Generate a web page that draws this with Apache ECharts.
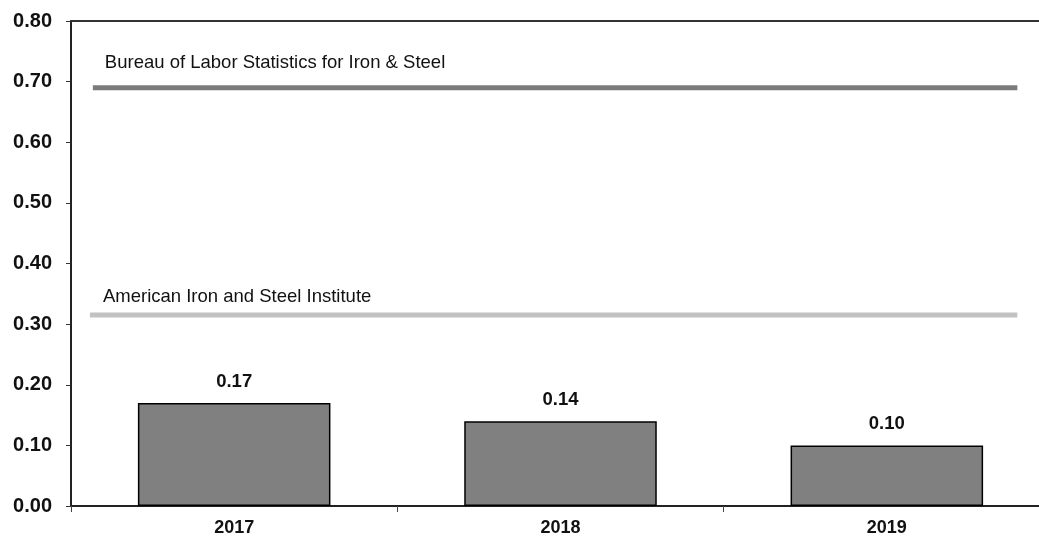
<!DOCTYPE html>
<html>
<head>
<meta charset="utf-8">
<script src="https://cdn.jsdelivr.net/npm/echarts@6/dist/echarts.min.js"></script>
<style>
html,body{margin:0;padding:0;background:#fff;overflow:hidden;}
#chart{width:1050px;height:539px;}
</style>
</head>
<body>
<div id="chart"></div>
<script>
const categories = ['2017', '2018', '2019'];
const barValues = [0.17, 0.14, 0.10];
const yTicks = { min: 0, max: 0.8, interval: 0.1 };
const refNames = ['Bureau of Labor Statistics for Iron & Steel', 'American Iron and Steel Institute'];
const refValues = [0.69, 0.315];
const refSpanStart = [0.067, 0.058];
const refSpanEnd = [2.9, 2.9];

const FONT = 'Liberation Sans, Arial, sans-serif';
const refColors = ['#7b7b7b', '#c2c2c2'];
const refOffsets = [[12, -10], [13, -4]];

const refSeries = refNames.map((name, i) => ({
  type: 'line',
  name: name,
  xAxisIndex: 1,
  symbol: 'circle',
  symbolSize: 0.01,
  showSymbol: true,
  silent: true,
  itemStyle: { color: 'rgba(0,0,0,0)' },
  lineStyle: { color: refColors[i], width: 5 },
  data: [
    {
      value: [refSpanStart[i], refValues[i]],
      label: {
        show: true,
        position: 'top',
        align: 'left',
        distance: 5,
        offset: refOffsets[i],
        formatter: name,
        color: '#111',
        fontFamily: FONT,
        fontSize: 18.5
      }
    },
    { value: [refSpanEnd[i], refValues[i]], label: { show: false } }
  ],
  z: 3
}));

const chart = echarts.init(document.getElementById('chart'), null, { renderer: 'canvas' });
chart.setOption({
  animation: false,
  backgroundColor: '#ffffff',
  grid: { left: 71, right: 0, top: 21, bottom: 33, containLabel: false },
  xAxis: [
    {
      type: 'category',
      data: categories,
      position: 'bottom',
      axisLine: { show: true, lineStyle: { color: '#222', width: 2 } },
      axisTick: { show: true, alignWithLabel: false, length: 6, lineStyle: { color: '#444', width: 1 } },
      axisLabel: { color: '#111', fontFamily: FONT, fontWeight: 'bold', fontSize: 18, margin: 13 },
      splitLine: { show: false }
    },
    {
      type: 'value',
      min: 0,
      max: 3,
      position: 'top',
      axisLine: { show: true, onZero: false, lineStyle: { color: '#333', width: 2 } },
      axisTick: { show: false },
      axisLabel: { show: false },
      splitLine: { show: false }
    }
  ],
  yAxis: {
    type: 'value',
    min: yTicks.min,
    max: yTicks.max,
    interval: yTicks.interval,
    axisLine: { show: true, lineStyle: { color: '#222', width: 2 } },
    axisTick: { show: true, length: 5, lineStyle: { color: '#333', width: 1 } },
    axisLabel: {
      color: '#111', fontFamily: FONT, fontWeight: 'bold', fontSize: 20, margin: 19,
      formatter: v => v.toFixed(2)
    },
    splitLine: { show: false }
  },
  series: [
    {
      type: 'bar',
      data: barValues,
      barWidth: '59%',
      itemStyle: { color: '#808080', borderColor: '#000', borderWidth: 1.5 },
      label: {
        show: true,
        position: 'top',
        distance: 12,
        color: '#111',
        fontFamily: FONT,
        fontWeight: 'bold',
        fontSize: 18.5,
        formatter: p => p.value.toFixed(2)
      },
      z: 2
    },
    ...refSeries
  ]
});
</script>
</body>
</html>
